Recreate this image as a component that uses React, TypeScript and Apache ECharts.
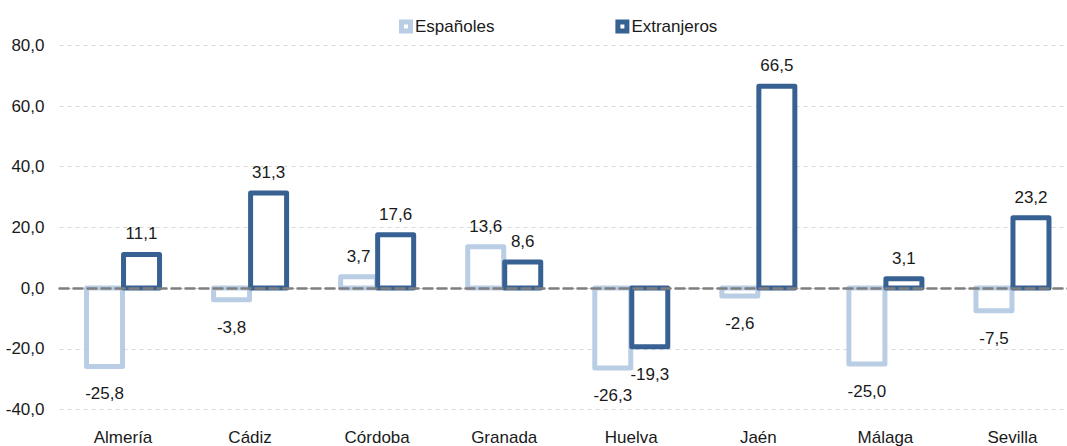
import React, { useEffect, useRef } from "react";
import * as echarts from "echarts";

const categories = ["Almería", "Cádiz", "Córdoba", "Granada", "Huelva", "Jaén", "Málaga", "Sevilla"];
const espanoles = [-25.8, -3.8, 3.7, 13.6, -26.3, -2.6, -25.0, -7.5];
const extranjeros = [11.1, 31.3, 17.6, 8.6, -19.3, 66.5, 3.1, 23.2];
const yTicks = { min: -40, max: 80, interval: 20 };

const FONT = "'Liberation Sans', Arial, sans-serif";
const FS = 17;
const LIGHT = "#b9cde5";
const DARK = "#386193";
const fmt = (v: number) => v.toFixed(1).replace(".", ",");
const LEGEND_ICON = "path://M0,0H14V14H0Z M5,5V9H9V5Z";

export default function App() {
  const ref = useRef<HTMLDivElement>(null);
  useEffect(() => {
    if (!ref.current) return;
    const chart = echarts.init(ref.current, undefined, { renderer: "svg" });
    const BAR = 36;
    const LW = 5;
    const makeSeries = (name: string, color: string, values: number[], offset: number) => ({
      name,
      type: "custom",
      itemStyle: { color },
      data: values.map((v, i) => [i, v]),
      encode: { x: 0, y: 1 },
      renderItem: (params: any, api: any) => {
        const cat = api.value(0);
        const v = api.value(1);
        const base = api.coord([cat, 0]);
        const top = api.coord([cat, v]);
        const xc = base[0] + offset;
        const y0 = Math.min(base[1], top[1]);
        const h = Math.abs(top[1] - base[1]);
        const pos = v >= 0;
        return {
          type: "group",
          children: [
            {
              type: "rect",
              shape: { x: xc - BAR / 2, y: y0, width: BAR, height: h },
              style: { fill: "#ffffff", stroke: color, lineWidth: LW, lineJoin: "round" },
            },
            {
              type: "text",
              style: {
                text: fmt(v),
                x: xc,
                y: pos ? top[1] - 12 : top[1] + 19,
                align: "center",
                verticalAlign: pos ? "bottom" : "top",
                fill: "#1a1a1a",
                font: `${FS}px ${FONT}`,
              },
            },
          ],
        };
      },
    });
    chart.setOption({
      animation: false,
      textStyle: { fontFamily: FONT },
      legend: {
        top: 13,
        left: 394,
        itemWidth: 14,
        itemHeight: 14,
        itemGap: 121,
        symbolKeepAspect: false,
        textStyle: { fontSize: FS, color: "#1a1a1a", fontFamily: FONT, padding: [0, 0, 0, -3] },
        data: [
          { name: "Españoles", icon: LEGEND_ICON, itemStyle: { color: LIGHT, borderWidth: 0 } },
          { name: "Extranjeros", icon: LEGEND_ICON, itemStyle: { color: DARK, borderWidth: 0 } },
        ],
      },
      grid: { left: 59.5, width: 1016.5, top: 45.3, height: 364.2, containLabel: false },
      xAxis: {
        type: "category",
        data: categories,
        z: 10,
        axisTick: { show: false },
        axisLine: {
          show: true,
          onZero: true,
          lineStyle: { color: "#7f7f7f", width: 2.5, type: [9, 5] },
        },
        axisLabel: {
          interval: 0,
          margin: 19,
          fontSize: FS,
          color: "#1a1a1a",
          fontFamily: FONT,
        },
      },
      yAxis: {
        type: "value",
        min: yTicks.min,
        max: yTicks.max,
        interval: yTicks.interval,
        axisLine: { show: false },
        axisTick: { show: false },
        axisLabel: {
          margin: 15,
          fontSize: FS,
          color: "#1a1a1a",
          fontFamily: FONT,
          formatter: (v: number) => fmt(v),
        },
        splitLine: { lineStyle: { color: "#d9d9d9", width: 1, type: [4, 4] } },
      },
      series: [
        makeSeries("Españoles", LIGHT, espanoles, -18.5),
        makeSeries("Extranjeros", DARK, extranjeros, 18.5),
      ],
    });
    return () => chart.dispose();
  }, []);
  return (
    <div style={{ position: "absolute", left: 0, top: 0, width: 1067, height: 446, overflow: "hidden", background: "#fff" }}>
      <div ref={ref} style={{ width: 1090, height: 470 }} />
    </div>
  );
}
